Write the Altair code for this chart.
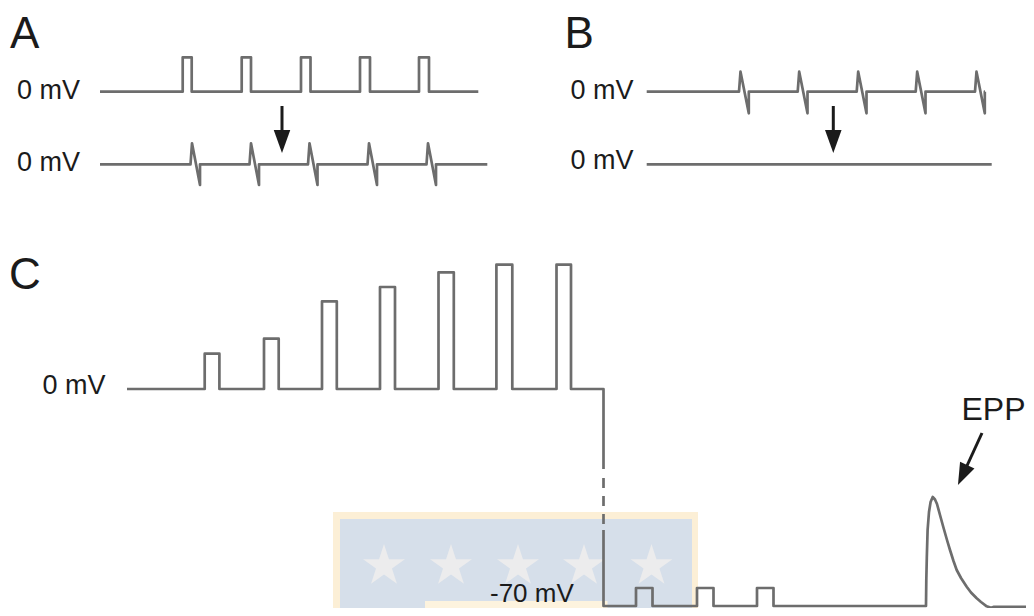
import altair as alt
import pandas as pd

# ---------------- data (image-like coordinates: x to the right, y downward) ----------------
# Panel A, top trace: square stimulus pulses
a_top_span = [100.0, 478.3]
a_top_base = 91.7
a_top_on = [182.7, 241.7, 301.0, 360.0, 419.0]
a_top_off = [191.7, 251.0, 310.5, 370.0, 429.0]
a_top_peak = [57.3, 57.3, 57.3, 57.3, 57.3]

# Panel A, bottom trace: biphasic responses
a_bot_span = [100.0, 487.3]
a_bot_base = 164.3
a_bot_on = [190.5, 249.5, 308.0, 367.5, 426.5]
a_bot_peak = 143.3
a_bot_trough = 185.0
a_bot_width = 9.5

# Panel B, top trace: biphasic responses
b_top_span = [646.7, 985.0]
b_top_base = 91.7
b_top_on = [739.0, 797.7, 856.7, 915.7, 975.0]
b_top_peak = 71.7
b_top_trough = 113.3
b_top_width = 9.8

# Panel B, bottom trace: flat
b_bot_span = [646.7, 991.7]
b_bot_base = 164.3

# Panel C, top trace: growing pulses, then step down
c_top_start = 127.0
c_top_base = 389.0
c_top_on = [204.7, 264.0, 322.0, 380.0, 438.5, 496.4, 556.5]
c_top_off = [219.4, 278.7, 336.8, 395.0, 453.8, 512.3, 571.0]
c_top_peak = [353.7, 338.7, 301.3, 287.0, 272.3, 264.7, 264.7]
c_step_x = 603.5
c_step_solid_end = 469.0
c_dash_span = [478.0, 524.0]
c_low_start = 530.0

# Panel C, bottom trace (-70 mV): small pulses and the EPP
c_low_base = 606.0
c_low_on = [636.0, 697.0, 757.0]
c_low_off = [652.5, 713.5, 773.5]
c_low_peak = [588.0, 588.0, 588.0]
epp_x = [926.0, 926.3, 926.8, 927.6, 929.0, 930.6, 932.7, 935.0, 937.0, 940.0, 943.3,
         947.0, 950.0, 953.5, 956.7, 961.0, 966.7, 971.0, 976.7, 981.0, 986.7, 991.0, 994.0, 1030.0]
epp_y = [606.0, 580.0, 558.0, 530.0, 512.0, 502.0, 497.0, 499.5, 504.0, 515.0, 527.0,
         540.0, 550.0, 561.0, 570.0, 578.0, 586.7, 592.5, 598.3, 602.0, 606.3, 607.8, 606.8, 606.8]

# Arrows: shaft start/end and head tip
arrow_names = ["A", "B", "EPP"]
arrow_x0 = [282.0, 833.3, 982.0]
arrow_y0 = [106.0, 106.0, 433.0]
arrow_x1 = [282.0, 833.3, 965.5]
arrow_y1 = [133.0, 133.0, 469.0]
arrow_head_x = [282.0, 833.3, 962.6]
arrow_head_y = [141.5, 141.5, 475.0]
arrow_head_angle = [0, 0, 25]
arrow_head_size = [529, 529, 484]

# Labels
label_text = ["A", "B", "C", "0 mV", "0 mV", "0 mV", "0 mV", "0 mV", "-70 mV", "EPP"]
label_x = [10.0, 564.5, 9.0, 17.0, 17.0, 570.5, 570.5, 42.5, 490.0, 961.5]
label_y = [48.0, 48.0, 289.0, 99.3, 171.0, 99.3, 169.0, 394.0, 602.0, 420.0]
label_size = [44, 44, 44, 27, 27, 27, 27, 27, 26, 32]

# Watermark (background logo)
wm_x = [333.0, 340.0, 425.0]
wm_x2 = [698.0, 692.0, 607.5]
wm_y = [512.0, 519.0, 601.0]
wm_y2 = [612.0, 612.0, 612.0]
wm_color = ["#fcefd6", "#d6dfea", "#fdf3de"]
star_x = [384.0, 451.0, 518.0, 584.0, 651.5]
star_y = [566.0, 566.0, 566.0, 566.0, 566.0]


# ---------------- build the trace table ----------------
def pulse_train(name, start, end, base, ons, offs, peaks):
    pts = [(start, base)]
    for on, off, pk in zip(ons, offs, peaks):
        pts += [(on, base), (on, pk), (off, pk), (off, base)]
    pts.append((end, base))
    return [(name, i, x, y) for i, (x, y) in enumerate(pts)]


def spike_train(name, start, end, base, ons, width, peak, trough):
    pts = [(start, base)]
    for on in ons:
        pts += [(on, base), (on + 1.5, peak), (on + width, trough), (on + width, base)]
    if pts[-1][0] < end:
        pts.append((end, base))
    return [(name, i, x, y) for i, (x, y) in enumerate(pts)]


rows = []
rows += pulse_train("a_top", a_top_span[0], a_top_span[1], a_top_base, a_top_on, a_top_off, a_top_peak)
rows += spike_train("a_bot", a_bot_span[0], a_bot_span[1], a_bot_base, a_bot_on, a_bot_width, a_bot_peak, a_bot_trough)
rows += spike_train("b_top", b_top_span[0], b_top_span[1], b_top_base, b_top_on, b_top_width, b_top_peak, b_top_trough)
rows += [("b_bot", 0, b_bot_span[0], b_bot_base), ("b_bot", 1, b_bot_span[1], b_bot_base)]
c_top = pulse_train("c_top", c_top_start, c_step_x, c_top_base, c_top_on, c_top_off, c_top_peak)
c_top.append(("c_top", len(c_top), c_step_x, c_step_solid_end))
rows += c_top
c_low = [(c_step_x, c_low_start)]
c_low_pts = pulse_train("tmp", c_step_x, epp_x[0], c_low_base, c_low_on, c_low_off, c_low_peak)
c_low += [(x, y) for _, _, x, y in c_low_pts]
c_low += list(zip(epp_x, epp_y))
rows += [("c_low", i, x, y) for i, (x, y) in enumerate(c_low)]
traces = pd.DataFrame(rows, columns=["trace", "order", "x", "y"])

dash = pd.DataFrame({"trace": ["dash", "dash"], "order": [0, 1],
                     "x": [c_step_x, c_step_x], "y": c_dash_span})

shafts = pd.DataFrame({"name": arrow_names, "x": arrow_x0, "y": arrow_y0,
                       "x2": arrow_x1, "y2": arrow_y1})
heads = pd.DataFrame({"name": arrow_names, "x": arrow_head_x, "y": arrow_head_y,
                      "angle": arrow_head_angle, "size": arrow_head_size})
labels = pd.DataFrame({"text": label_text, "x": label_x, "y": label_y, "size": label_size})
wm = pd.DataFrame({"x": wm_x, "x2": wm_x2, "y": wm_y, "y2": wm_y2, "color": wm_color})
stars = pd.DataFrame({"x": star_x, "y": star_y})

# ---------------- chart ----------------
xs = alt.Scale(domain=[8, 1026], nice=False, zero=False)
ys = alt.Scale(domain=[8, 608], nice=False, zero=False, reverse=True)
X = alt.X("x:Q", scale=xs, axis=None)
Y = alt.Y("y:Q", scale=ys, axis=None)

STAR = ("M0,-1L0.2245,-0.309L0.951,-0.309L0.363,0.118L0.588,0.809L0,0.382"
        "L-0.588,0.809L-0.363,0.118L-0.951,-0.309L-0.2245,-0.309Z")
HEAD = "M-0.72,-1L0.72,-1L0,1Z"
TRACE_COLOR = "#6d6d6d"
INK = "#1b1b1b"
FONT = "Liberation Sans"

wm_layer = alt.Chart(wm).mark_rect().encode(
    x=X, x2="x2:Q", y=Y, y2="y2:Q", color=alt.Color("color:N", scale=None))
star_layer = alt.Chart(stars).mark_point(
    shape=STAR, filled=True, size=1936, color="#ececed", opacity=1, strokeWidth=0
).encode(x=X, y=Y)
line_layer = alt.Chart(traces).mark_line(
    color=TRACE_COLOR, strokeWidth=2.7, strokeJoin="round", strokeCap="butt"
).encode(x=X, y=Y, detail="trace:N", order="order:Q")
dash_layer = alt.Chart(dash).mark_line(
    color=TRACE_COLOR, strokeWidth=2.7, strokeDash=[10, 8]
).encode(x=X, y=Y, order="order:Q")
shaft_layer = alt.Chart(shafts).mark_rule(color=INK, strokeWidth=3).encode(
    x=X, y=Y, x2="x2:Q", y2="y2:Q")
head_layer = alt.Chart(heads).mark_point(
    shape=HEAD, filled=True, color=INK, opacity=1, strokeWidth=0
).encode(x=X, y=Y, angle=alt.Angle("angle:Q", scale=None),
         size=alt.Size("size:Q", scale=None))
text_layer = alt.Chart(labels).mark_text(
    align="left", baseline="alphabetic", font=FONT, color=INK
).encode(x=X, y=Y, text="text:N", size=alt.Size("size:Q", scale=None))

chart = alt.layer(
    wm_layer, star_layer, line_layer, dash_layer, shaft_layer, head_layer, text_layer
).properties(
    width=1018, height=600, padding=0,
    autosize=alt.AutoSizeParams(type="none"),
    background="white",
).configure_view(stroke=None, clip=False)

chart.save("out.html", embed_options={"renderer": "svg", "actions": False})
